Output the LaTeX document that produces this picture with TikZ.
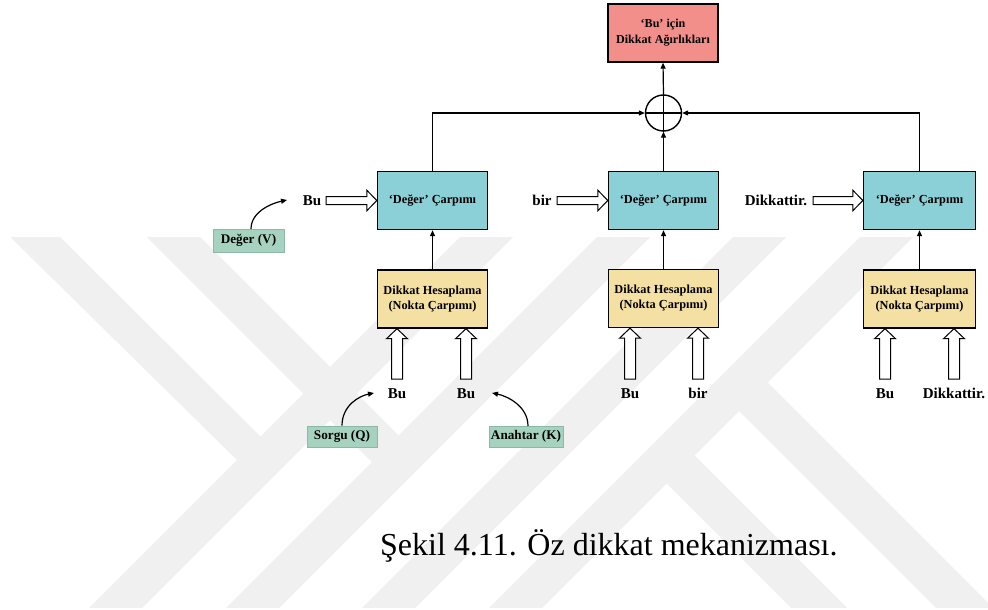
\documentclass[tikz,border=0pt]{standalone}
\usepackage{fontspec}
\setmainfont{Liberation Serif}
\usetikzlibrary{arrows.meta,calc}
\definecolor{wm}{RGB}{240,240,240}
\definecolor{redbox}{RGB}{243,143,139}
\definecolor{cyanbox}{RGB}{139,207,215}
\definecolor{yelbox}{RGB}{245,224,164}
\definecolor{grnbox}{RGB}{166,211,192}
\definecolor{grnline}{RGB}{140,185,165}
\newcommand{\blkup}[2]{\draw[blk] let \p1=(#1), \p2=(#2) in (\x1-5.5pt,\y1) -- (\x1-5.5pt,\y2-10pt) -- (\x1-10.5pt,\y2-10pt) -- (\x1,\y2) -- (\x1+10.5pt,\y2-10pt) -- (\x1+5.5pt,\y2-10pt) -- (\x1+5.5pt,\y1) -- cycle;}
\newcommand{\blkright}[2]{\draw[blk] let \p1=(#1), \p2=(#2) in (\x1,\y1+4pt) -- (\x2-10pt,\y1+4pt) -- (\x2-10pt,\y1+10.3pt) -- (\x2,\y1) -- (\x2-10pt,\y1-10.3pt) -- (\x2-10pt,\y1-4pt) -- (\x1,\y1-4pt) -- cycle;}
\tikzset{
 box/.style={draw=black, line width=1.4pt, minimum width=110pt, minimum height=58pt, inner sep=0pt, align=center, font=\fontsize{12.3}{15}\selectfont\bfseries},
 valbox/.style={box, fill=cyanbox},
 attbox/.style={box, fill=yelbox},
 lbl/.style={font=\fontsize{15}{18}\selectfont\bfseries, inner sep=0pt, anchor=base},
 tag/.style={draw=grnline, line width=0.8pt, fill=grnbox, inner sep=0pt, font=\fontsize{13.2}{16}\selectfont\bfseries},
 conn/.style={line width=1.2pt, -{Triangle[length=6pt,width=5pt]}},
 blk/.style={draw=black, line width=1pt, fill=white},
}
\begin{document}
\begin{tikzpicture}[x=1pt,y=-1pt]
\useasboundingbox (0,0) rectangle (988,610);
\fill[white] (0,0) rectangle (988,610);
% watermark
\begin{scope}
\clip (0,237) rectangle (988,607);
\foreach \x in {90,227,363,490} {\fill[wm] (\x-20,627) -- (\x+33,627) -- (\x+443,217) -- (\x+390,217) -- cycle;}
\fill[wm] (-10,217) -- (40,217) -- (287,463) -- (240,463) -- cycle;
\fill[wm] (127,217) -- (180,217) -- (425,462) -- (372,462) -- cycle;
\fill[wm] (651.5,468.5) -- (679.5,440.5) -- (866,627) -- (810,627) -- cycle;
\fill[wm] (724,396) -- (752.5,367.5) -- (1012,627) -- (955,627) -- cycle;
\end{scope}
% top
\node[box, fill=redbox, font=\fontsize{12.1}{16}\selectfont\bfseries] (res) at (663,33) {‘Bu’ için\\Dikkat Ağırlıkları};
\node[circle, draw, line width=1.4pt, minimum size=36pt, inner sep=0pt] (sum) at (663.5,113) {};
\draw[line width=1.2pt] (sum.north) -- (sum.south) (sum.west) -- (sum.east);
% value boxes
\node[valbox] (v1) at (432.5,200.5) {‘Değer’ Çarpımı};
\node[valbox] (v2) at (663.5,200.5) {‘Değer’ Çarpımı};
\node[valbox, minimum width=112pt] (v3) at (919.5,200.5) {‘Değer’ Çarpımı};
% attention boxes
\node[attbox] (d1) at (432.5,299) {Dikkat Hesaplama\\(Nokta Çarpımı)};
\node[attbox] (d2) at (663.5,298.5) {Dikkat Hesaplama\\(Nokta Çarpımı)};
\node[attbox, minimum width=112pt] (d3) at (919.5,299) {Dikkat Hesaplama\\(Nokta Çarpımı)};
% connectors
\draw[conn] (v1.north) |- (sum.west);
\draw[conn] (v3.north) |- (sum.east);
\draw[conn] (v2.north) -- (sum.south);
\draw[conn] (sum.north) -- (res.south);
\draw[conn] (d1.north) -- (v1.south);
\draw[conn] (d2.north) -- (v2.south);
\draw[conn] (d3.north) -- (v3.south);
% value inputs
\node[lbl] (bu0) at (312,205.5) {Bu};
\node[lbl] (bir0) at (542,205.5) {bir};
\node[lbl] (dik0) at (776,205.5) {Dikkattir.};
\coordinate (h1) at (326,200.5);
\coordinate (h2) at (557,200.5);
\coordinate (h3) at (813,200.5);
\blkright{h1}{h1 -| v1.west}
\blkright{h2}{h2 -| v2.west}
\blkright{h3}{h3 -| v3.west}
% query/key inputs
\node[lbl] (q1) at (397,398.5) {Bu};
\node[lbl] (k1) at (466,398.5) {Bu};
\node[lbl] (q2) at (630,398.5) {Bu};
\node[lbl] (k2) at (698,398.5) {bir};
\node[lbl] (q3) at (885,398.5) {Bu};
\node[lbl] (k3) at (954,398.5) {Dikkattir.};
\coordinate (q1b) at ($(q1.base)+(0,-19.5)$);
\coordinate (k1b) at ($(k1.base)+(0,-19.5)$);
\coordinate (q2b) at ($(q2.base)+(0,-19.5)$);
\coordinate (k2b) at ($(k2.base)+(0,-19.5)$);
\coordinate (q3b) at ($(q3.base)+(0,-19.5)$);
\coordinate (k3b) at ($(k3.base)+(0,-19.5)$);
\blkup{q1b}{q1b |- d1.south}
\blkup{k1b}{k1b |- d1.south}
\blkup{q2b}{q2b |- d2.south}
\blkup{k2b}{k2b |- d2.south}
\blkup{q3b}{q3b |- d3.south}
\blkup{k3b}{k3b |- d3.south}
% tags
\node[tag, minimum width=70pt, minimum height=21pt] (tq) at (342,436.5) {Sorgu (Q)};
\node[tag, minimum width=74pt, minimum height=21pt] (tk) at (526,436.5) {Anahtar (K)};
\node[tag, minimum width=71pt, minimum height=23pt] (tv) at (248.5,240.5) {Değer (V)};
\coordinate (qe) at (374,393);
\coordinate (ks) at (528,426);
\coordinate (ke) at (492,393);
\coordinate (vs) at (251,229);
\coordinate (ve) at (287,200);
\draw[conn] (tq.north) .. controls +(0,-20) and +(-15,3) .. (qe);
\draw[conn] (ks) .. controls +(0,-20) and +(15,3) .. (ke);
\draw[conn] (vs) .. controls +(0,-18) and +(-14,3) .. (ve);
% caption
\node[anchor=base west, inner sep=0pt, font=\fontsize{32}{38}\selectfont] (cap) at (380,555) {Şekil 4.11. Öz dikkat mekanizması.};
\end{tikzpicture}
\end{document}
